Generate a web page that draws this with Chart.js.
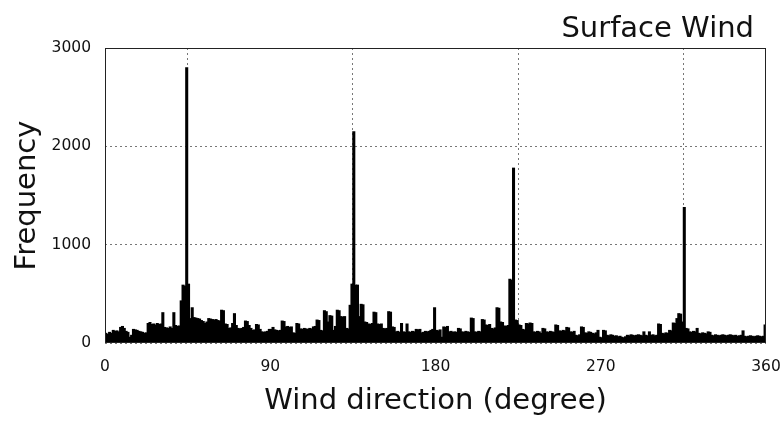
<!DOCTYPE html>
<html>
<head>
<meta charset="utf-8">
<script src="https://cdn.jsdelivr.net/npm/chart.js@4.4.0/dist/chart.umd.min.js"></script>
<style>
  html, body { margin: 0; padding: 0; background: #fff; }
  #wrap { width: 780px; height: 422px; }
</style>
</head>
<body>
<div id="wrap"><canvas id="windChart" width="780" height="422"></canvas></div>
<script>
const FONT = '"DejaVu Sans", sans-serif';

const titleText = "Surface Wind";
const xLabel = "Wind direction (degree)";
const yLabel = "Frequency";
const xTicks = [0, 90, 180, 270, 360];
const yTicks = [0, 1000, 2000, 3000];

// counts per 1-degree direction bin, starting at 0 deg
const counts = [
  100, 90, 110, 100, 130, 120, 125, 115, 160, 170,
  150, 120, 110, 60, 80, 140, 135, 130, 120, 115,
  110, 100, 105, 200, 210, 190, 195, 185, 200, 190,
  195, 310, 160, 155, 150, 165, 150, 310, 180, 170,
  175, 430, 590, 580, 2800, 600, 250, 360, 260, 255,
  250, 245, 230, 220, 200, 215, 250, 245, 240, 235,
  240, 230, 225, 335, 330, 195, 190, 150, 155, 200,
  300, 180, 150, 145, 150, 160, 225, 220, 180, 150,
  130, 135, 190, 185, 140, 115, 110, 115, 120, 140,
  140, 160, 135, 130, 125, 130, 225, 220, 165, 170,
  160, 165, 105, 100, 200, 195, 145, 140, 150, 145,
  140, 150, 145, 165, 170, 235, 230, 130, 125, 330,
  320, 215, 280, 275, 130, 170, 335, 330, 270, 265,
  270, 150, 145, 385, 600, 2150, 590, 590, 270, 395,
  390, 215, 210, 195, 190, 200, 315, 310, 195, 190,
  195, 150, 145, 150, 320, 315, 165, 160, 115, 120,
  110, 200, 115, 110, 195, 115, 110, 120, 115, 140,
  135, 140, 105, 110, 120, 115, 120, 130, 140, 360,
  130, 125, 135, 60, 165, 160, 170, 115, 120, 110,
  115, 110, 150, 145, 115, 110, 120, 115, 110, 255,
  250, 115, 110, 120, 115, 240, 235, 185, 180, 190,
  150, 145, 155, 360, 355, 215, 210, 175, 170, 180,
  650, 640, 1780, 235, 230, 185, 180, 140, 135, 200,
  195, 205, 200, 115, 110, 120, 115, 100, 150, 145,
  115, 110, 120, 115, 110, 185, 180, 125, 120, 130,
  125, 160, 155, 115, 110, 120, 80, 75, 85, 165,
  160, 105, 100, 115, 110, 100, 95, 105, 130, 60,
  55, 130, 125, 80, 75, 85, 80, 70, 75, 65,
  70, 60, 55, 65, 80, 75, 85, 80, 75, 80,
  85, 80, 75, 115, 80, 75, 115, 80, 85, 75,
  80, 195, 190, 100, 95, 105, 100, 130, 125, 205,
  200, 250, 300, 295, 215, 1380, 150, 145, 115, 110,
  120, 115, 150, 100, 95, 105, 100, 95, 115, 110,
  80, 75, 85, 80, 75, 80, 85, 80, 75, 80,
  85, 80, 75, 80, 70, 75, 80, 125, 70, 65,
  70, 75, 70, 65, 70, 75, 70, 65, 70, 185
];

// bar centred in the middle of its bin
const points = counts.map((c, i) => ({ x: i + 0.5, y: c }));

// plot frame on all four sides plus the title in the top right
const framePlugin = {
  id: 'frame',
  afterDatasetsDraw(chart) {
    const { ctx, chartArea: a } = chart;
    ctx.save();
    ctx.strokeStyle = '#222';
    ctx.lineWidth = 1;
    ctx.strokeRect(a.left + 0.5, a.top + 0.5, a.right - a.left - 1, a.bottom - a.top - 1);
    ctx.fillStyle = '#111';
    ctx.font = '29px ' + FONT;
    ctx.textAlign = 'right';
    ctx.textBaseline = 'alphabetic';
    ctx.fillText(titleText, 754, 37);
    ctx.restore();
  }
};

const gridOpts = { color: '#777', drawTicks: false, lineWidth: 1 };
const borderOpts = { display: false, dash: [2, 3] };

new Chart(document.getElementById('windChart'), {
  type: 'bar',
  data: {
    datasets: [{
      data: points,
      backgroundColor: '#000',
      borderWidth: 0,
      barThickness: 2.4,
      grouped: false
    }]
  },
  options: {
    responsive: false,
    animation: false,
    devicePixelRatio: 1,
    layout: { padding: { top: 48, right: 14, left: 0, bottom: 0 } },
    plugins: { legend: { display: false }, tooltip: { enabled: false } },
    scales: {
      x: {
        type: 'linear',
        min: 0,
        max: 360,
        offset: false,
        // fixed height, and no extra room for the end labels
        afterFit: s => { s.height = 79; s.paddingLeft = 0; s.paddingRight = 0; },
        afterBuildTicks: s => { s.ticks = xTicks.map(v => ({ value: v })); },
        grid: gridOpts,
        border: borderOpts,
        ticks: { padding: 15, color: '#111', font: { family: FONT, size: 15.5 }, maxRotation: 0, callback: v => String(v) },
        title: { display: true, text: xLabel, color: '#111', font: { family: FONT, size: 29 }, padding: { top: 0, bottom: 3 } }
      },
      y: {
        min: 0,
        max: 3000,
        afterFit: s => { s.width = 105; s.paddingTop = 0; s.paddingBottom = 0; },
        afterBuildTicks: s => { s.ticks = yTicks.map(v => ({ value: v })); },
        grid: gridOpts,
        border: borderOpts,
        ticks: { padding: 14, color: '#111', font: { family: FONT, size: 15.5 }, callback: v => String(v) },
        title: { display: true, text: yLabel, color: '#111', font: { family: FONT, size: 29 }, padding: { top: 10, bottom: 0 } }
      }
    }
  },
  plugins: [framePlugin]
});
</script>
</body>
</html>
